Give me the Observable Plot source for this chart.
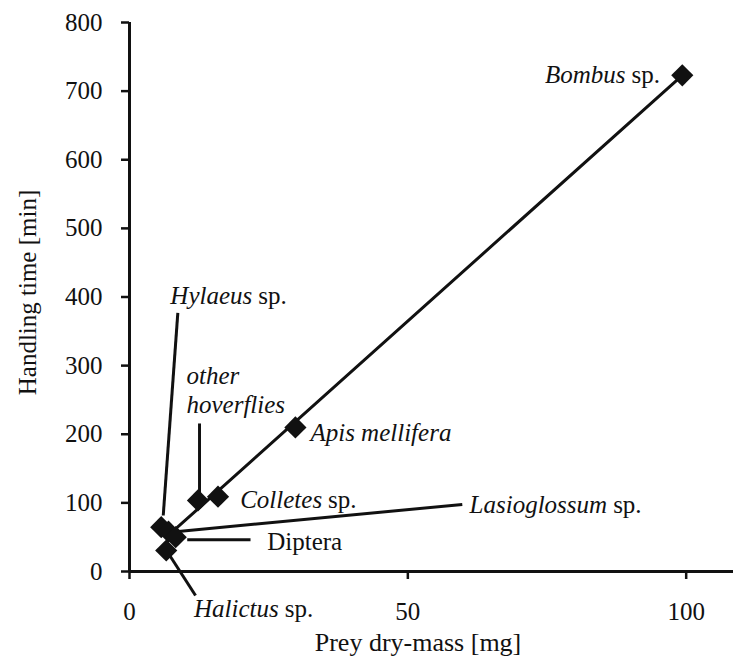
<!DOCTYPE html>
<html><head><meta charset="utf-8">
<script src="https://cdn.jsdelivr.net/npm/d3@7"></script>
<script src="https://cdn.jsdelivr.net/npm/@observablehq/plot@0.6"></script>
<style>
body{margin:0;background:#fff;}
#chart svg{font-family:"Liberation Serif","Times New Roman",serif;}
</style>
</head><body><div id="chart"></div>
<script>
// Data points (prey taxa)
const taxa = ["Bombus sp.", "Apis mellifera", "Colletes sp.", "other hoverflies", "Hylaeus sp.", "Lasioglossum sp.", "Diptera", "Halictus sp."];
const dryMass = [99.3, 29.8, 15.9, 12.3, 5.7, 7.0, 8.3, 6.6];
const handlingTime = [723, 210, 109, 103.5, 64.6, 58, 50, 30.6];

// Regression line end points
const fitMass = [7.37, 99.3];
const fitTime = [55.4, 723];

// Leader lines (from point to label)
const leaderTaxa = ["Hylaeus sp.", "other hoverflies", "Diptera", "Halictus sp.", "Lasioglossum sp."];
const leaderX1 = [6.06, 12.58, 10.37, 6.65, 7.37];
const leaderY1 = [81.6, 113.7, 46.2, 30.6, 57.3];
const leaderX2 = [8.68, 12.58, 21.74, 11.86, 59.78];
const leaderY2 = [377, 215.7, 46.2, -35, 97.7];

// Italic genus names, ending where " sp." begins
const genusText = ["Bombus", "Hylaeus", "Colletes", "Lasioglossum", "Halictus"];
const genusX = [89.1, 22.05, 34.6, 85.8, 26.8];
const genusY = [723, 402, 103.5, 96.2, -54];
const spText = ["sp.", "sp.", "sp.", "sp.", "sp."];

// Italic labels anchored at their start
const italicText = ["other\nhoverflies", "Apis mellifera"];
const italicX = [10.24, 32.5];
const italicY = [265, 203];

// Upright label
const romanText = ["Diptera"];
const romanX = [24.74];
const romanY = [43.7];

// Axis ticks and titles
const xTicks = [0, 50, 100];
const yTicks = [0, 100, 200, 300, 400, 500, 600, 700, 800];
const xTitle = "Prey dry-mass [mg]";
const yTitle = "Handling time [min]";

const ink = "#111";
const idx = (a) => a.map((_, i) => i);
const serif = "'Liberation Serif','Times New Roman',serif";

const chart = Plot.plot({
  width: 733,
  height: 663,
  marginLeft: 129,
  marginRight: 0,
  marginTop: 22,
  marginBottom: 92,
  style: {fontFamily: serif, fontSize: "25px", background: "#fff", color: ink},
  x: {domain: [0, 108.5]},
  y: {domain: [0, 800]},
  marks: [
    Plot.axisY({ticks: yTicks, tickSize: 8, tickPadding: 19, fontSize: 25, fontFamily: serif, label: null, strokeWidth: 2.5, stroke: ink, fill: ink}),
    Plot.axisX({ticks: xTicks, tickSize: 8, tickPadding: 23, fontSize: 25, fontFamily: serif, label: null, strokeWidth: 2.5, stroke: ink, fill: ink}),
    Plot.ruleX([0], {y1: 0, y2: 800, stroke: ink, strokeWidth: 3}),
    Plot.ruleY([0], {stroke: ink, strokeWidth: 3}),
    Plot.text([xTitle], {frameAnchor: "bottom", textAnchor: "middle", dx: -13.5, dy: 71.5, fontSize: 26, fontFamily: serif, fill: ink, lineAnchor: "middle"}),
    Plot.text([yTitle], {frameAnchor: "left", textAnchor: "middle", dx: -101.5, dy: -4.5, rotate: -90, fontSize: 25, fontFamily: serif, fill: ink, lineAnchor: "middle"}),
    Plot.line(idx(fitMass), {x: fitMass, y: fitTime, stroke: ink, strokeWidth: 3}),
    Plot.link(leaderTaxa, {x1: leaderX1, y1: leaderY1, x2: leaderX2, y2: leaderY2, stroke: ink, strokeWidth: 3}),
    Plot.dot(taxa, {x: dryMass, y: handlingTime, symbol: "diamond2", r: 10, fill: ink, stroke: "none"}),
    Plot.text(genusText, {x: genusX, y: genusY, text: d => d, textAnchor: "end", fontStyle: "italic", fontSize: 25, fontFamily: serif, fill: ink, lineAnchor: "middle"}),
    Plot.text(spText, {x: genusX, y: genusY, text: d => d, dx: 6, textAnchor: "start", fontSize: 25, fontFamily: serif, fill: ink, lineAnchor: "middle"}),
    Plot.text(italicText, {x: italicX, y: italicY, text: d => d, textAnchor: "start", fontStyle: "italic", fontSize: 25, fontFamily: serif, fill: ink, lineHeight: 1.16, lineAnchor: "middle"}),
    Plot.text(romanText, {x: romanX, y: romanY, text: d => d, textAnchor: "start", fontSize: 25, fontFamily: serif, fill: ink, lineAnchor: "middle"})
  ]
});
document.getElementById("chart").appendChild(chart);
</script>
</body></html>
